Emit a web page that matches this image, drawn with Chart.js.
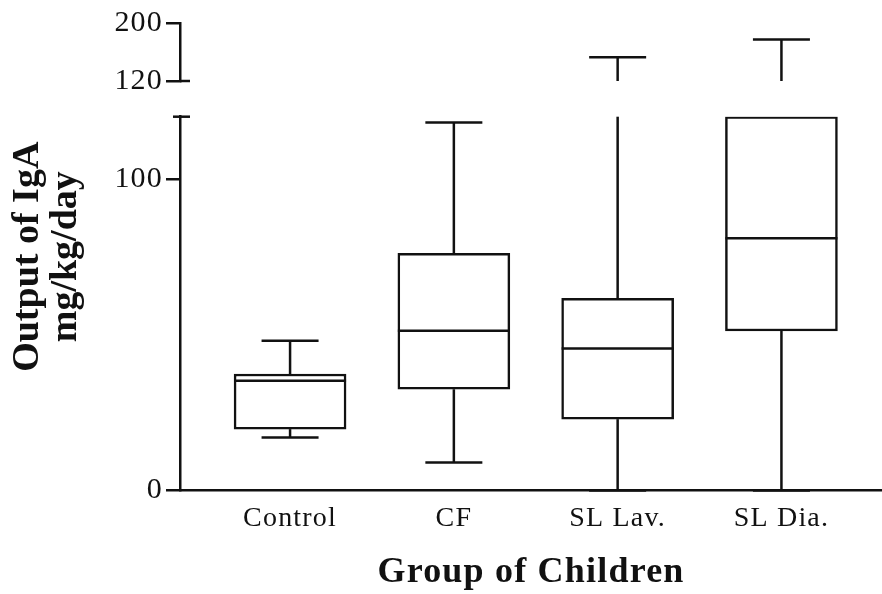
<!DOCTYPE html>
<html>
<head>
<meta charset="utf-8">
<script src="https://cdn.jsdelivr.net/npm/chart.js@4.4.1/dist/chart.umd.min.js"></script>
<style>
  html, body { margin: 0; padding: 0; background: #fff; }
</style>
</head>
<body>
<canvas id="boxChart" width="882" height="594"></canvas>
<script>
// groups and box-plot values (mg/kg/day)
const groups = ["Control", "CF", "SL Lav.", "SL Dia."];
const mins = [17, 9, 0, 0];
const q1s = [19.7, 32.5, 22.9, 51.2];
const medians = [35.2, 51.3, 45.6, 81];
const q3s = [37.4, 76.1, 61.7, 120];
const maxs = [48.1, 118.1, 152.6, 177.3];

// broken y axis: 0-120 below, 120-200 above
const lowTicks = [0, 100];
const highTicks = [120, 200];
const breakAt = 120;
const topValue = 200;

const serif = "'Liberation Serif', 'Times New Roman', serif";
const ink = "#111";
const boxWidth = 112;
const capHalf = 28.5;

// the scanned figure has slightly wide lettering on its axes
const spacing = {
    id: "spacing",
    beforeDraw(chart) { chart.ctx.letterSpacing = "1.2px"; },
    afterDraw(chart) { chart.ctx.letterSpacing = "0px"; }
};

const boxParts = {
    id: "boxParts",
    afterDatasetsDraw(chart) {
        const ctx = chart.ctx;
        const xs = chart.scales.x;
        const lo = chart.scales.yLow;
        const hi = chart.scales.yHigh;

        ctx.save();
        ctx.strokeStyle = ink;
        ctx.lineWidth = 2.5;
        const line = (x1, y1, x2, y2) => {
            ctx.beginPath();
            ctx.moveTo(x1, y1);
            ctx.lineTo(x2, y2);
            ctx.stroke();
        };

        groups.forEach((g, i) => {
            const cx = xs.getPixelForValue(i);
            // median
            const ym = lo.getPixelForValue(medians[i]);
            line(cx - boxWidth / 2, ym, cx + boxWidth / 2, ym);
            // lower whisker
            const yMin = lo.getPixelForValue(mins[i]);
            line(cx, lo.getPixelForValue(q1s[i]), cx, yMin);
            line(cx - capHalf, yMin, cx + capHalf, yMin);
            // upper whisker, split over the break
            const yTopLow = lo.getPixelForValue(Math.min(maxs[i], breakAt));
            line(cx, lo.getPixelForValue(q3s[i]), cx, yTopLow);
            if (maxs[i] > breakAt) {
                const yMax = hi.getPixelForValue(maxs[i]);
                line(cx, hi.getPixelForValue(breakAt), cx, yMax);
                line(cx - capHalf, yMax, cx + capHalf, yMax);
            } else {
                line(cx - capHalf, yTopLow, cx + capHalf, yTopLow);
            }
        });

        // break marks on the y axis
        const ax = lo.right;
        const yb1 = lo.getPixelForValue(breakAt);
        line(ax - 7, yb1, ax + 10, yb1);
        const yb2 = hi.getPixelForValue(breakAt);
        line(ax, yb2, ax + 10, yb2);

        // y axis title, centred on the whole broken axis
        const midY = (hi.getPixelForValue(topValue) + lo.getPixelForValue(0)) / 2;
        ctx.letterSpacing = "0px";
        ctx.fillStyle = ink;
        ctx.font = "bold 38px " + serif;
        ctx.textAlign = "center";
        ctx.textBaseline = "alphabetic";
        [["Output of IgA", 38], ["mg/kg/day", 76]].forEach(([txt, bx]) => {
            ctx.save();
            ctx.translate(bx, midY);
            ctx.rotate(-Math.PI / 2);
            ctx.fillText(txt, 0, 0);
            ctx.restore();
        });
        ctx.restore();
    }
};

const yAxisBase = {
    type: "linear",
    position: "left",
    stack: "y",
    offset: false,
    border: { color: ink, width: 2.5 },
    grid: { drawOnChartArea: false, drawTicks: true, tickLength: 14, color: ink, lineWidth: 2.5 },
    ticks: { color: ink, padding: 3, autoSkip: false, font: { family: serif, size: 30 } },
    afterFit: s => { s.width = 180; }
};

new Chart(document.getElementById("boxChart"), {
    type: "bar",
    data: {
        datasets: [{
            data: groups.map((g, i) => ({ x: i, y: [q1s[i], q3s[i]] })),
            yAxisID: "yLow",
            backgroundColor: "#fff",
            borderColor: ink,
            borderWidth: 2.5,
            borderSkipped: false,
            barThickness: boxWidth
        }]
    },
    options: {
        responsive: false,
        animation: false,
        layout: { padding: { top: 23, left: 0, right: 0, bottom: 0 } },
        plugins: {
            legend: { display: false },
            tooltip: { enabled: false }
        },
        scales: {
            x: {
                type: "linear",
                min: -0.672,
                max: 3.614,
                offset: false,
                border: { color: ink, width: 2.5 },
                grid: { display: false, drawTicks: false, offset: false },
                ticks: {
                    color: ink,
                    padding: 11,
                    autoSkip: false,
                    maxRotation: 0,
                    font: { family: serif, size: 28 },
                    callback: v => groups[v]
                },
                afterBuildTicks: s => { s.ticks = groups.map((g, i) => ({ value: i })); },
                title: {
                    display: true,
                    text: "Group of Children",
                    color: ink,
                    padding: { top: 0, bottom: 0 },
                    font: { family: serif, size: 36, weight: "bold" }
                },
                afterFit: s => { s.height = 103.5; }
            },
            yLow: Object.assign({}, yAxisBase, {
                min: 0,
                max: breakAt,
                stackWeight: 373.8,
                afterBuildTicks: s => { s.ticks = lowTicks.map(v => ({ value: v })); }
            }),
            yGap: {
                type: "linear",
                display: false,
                position: "left",
                stack: "y",
                stackWeight: 35.7,
                min: 0,
                max: 1
            },
            yHigh: Object.assign({}, yAxisBase, {
                min: breakAt,
                max: topValue,
                stackWeight: 58,
                afterBuildTicks: s => { s.ticks = highTicks.map(v => ({ value: v })); }
            })
        }
    },
    plugins: [spacing, boxParts]
});
</script>
</body>
</html>
